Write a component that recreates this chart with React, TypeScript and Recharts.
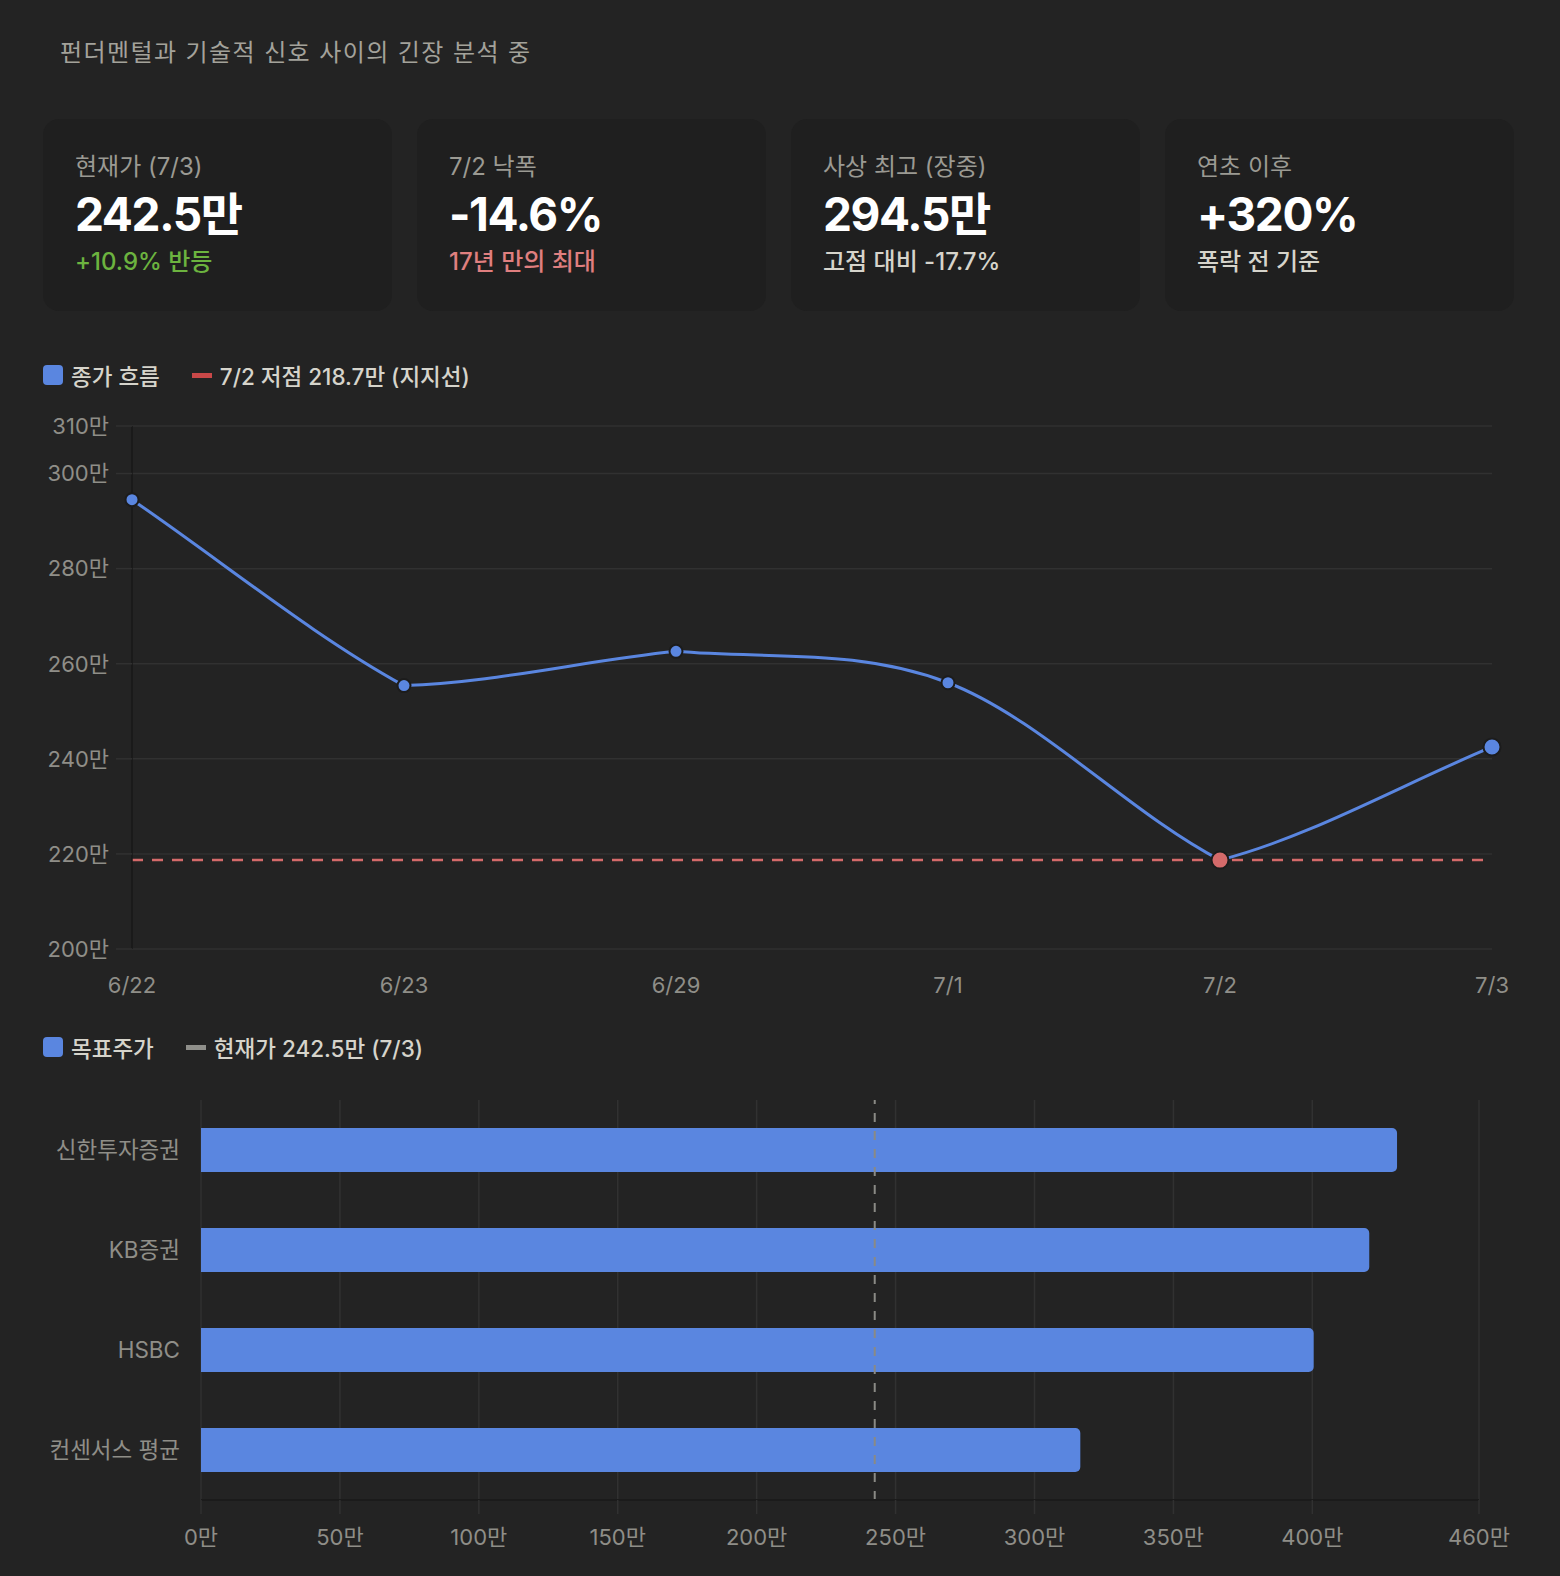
import React from 'react';
import {
  LineChart, Line, XAxis, YAxis, CartesianGrid, ReferenceLine,
  BarChart, Bar,
} from 'recharts';

// ---------- data ----------
const titleText = '펀더멘털과 기술적 신호 사이의 긴장 분석 중';

const kpiLabels = ['현재가 (7/3)', '7/2 낙폭', '사상 최고 (장중)', '연초 이후'];
const kpiValues = ['242.5만', '-14.6%', '294.5만', '+320%'];
const kpiSubs = ['+10.9% 반등', '17년 만의 최대', '고점 대비 -17.7%', '폭락 전 기준'];

const dates = ['6/22', '6/23', '6/29', '7/1', '7/2', '7/3'];
const closes = [294.5, 255.4, 262.6, 256.0, 218.7, 242.5];
const priceTicks = [200, 220, 240, 260, 280, 300, 310];
const supportLevel = 218.7;

const brokers = ['신한투자증권', 'KB증권', 'HSBC', '컨센서스 평균'];
const targets = [430.5, 420.5, 400.5, 316.5];
const targetTicks = [0, 50, 100, 150, 200, 250, 300, 350, 400, 460];
const currentPrice = 242.5;

const lineLegend = ['종가 흐름', '7/2 저점 218.7만 (지지선)'];
const barLegend = ['목표주가', '현재가 242.5만 (7/3)'];

// ---------- styles ----------
const BG = '#232323';
const CARD = '#1f1f1f';
const BLUE = '#5a86e0';
const RED = '#d46a6a';
const GRID = '#313131';
const TICK = '#8f8e88';
const FONT = "Inter, 'Noto Sans CJK KR', 'Noto Sans', sans-serif";

const subColors = ['#6cb33f', '#e07f7f', '#d6d4cb', '#d6d4cb'];

const lineData = dates.map((d, i) => ({ date: d, close: closes[i] }));
const barData = brokers.map((b, i) => ({ name: b, target: targets[i] }));

const minClose = Math.min(...closes);

// Piecewise Hermite curve: averaged tangents at monotone points,
// softened one-sided chord tangents at local extremes.
const EXTREME_SOFTEN = 0.8;
const extremeChordCurve = (context: any) => {
  let pts: number[][] = [];
  return {
    areaStart() {},
    areaEnd() {},
    lineStart() { pts = []; },
    point(x: number, y: number) { pts.push([+x, +y]); },
    lineEnd() {
      const n = pts.length;
      if (!n) return;
      const d: number[] = [];
      for (let i = 0; i < n - 1; i++) {
        const dx = pts[i + 1][0] - pts[i][0];
        d.push(dx !== 0 ? (pts[i + 1][1] - pts[i][1]) / dx : 0);
      }
      const mIn: number[] = new Array(n).fill(0);
      const mOut: number[] = new Array(n).fill(0);
      for (let i = 0; i < n; i++) {
        if (i === 0) { mOut[i] = d[0] ?? 0; continue; }
        if (i === n - 1) { mIn[i] = d[n - 2]; continue; }
        const a = d[i - 1];
        const b = d[i];
        if (Math.sign(a) !== Math.sign(b)) {
          const s = Math.abs(a) + Math.abs(b) || 1;
          mIn[i] = EXTREME_SOFTEN * a * Math.min(1, (2 * Math.abs(a)) / s);
          mOut[i] = EXTREME_SOFTEN * b * Math.min(1, (2 * Math.abs(b)) / s);
        } else {
          mIn[i] = mOut[i] = (a + b) / 2;
        }
      }
      context.moveTo(pts[0][0], pts[0][1]);
      for (let i = 1; i < n; i++) {
        const p0 = pts[i - 1];
        const p1 = pts[i];
        const h = (p1[0] - p0[0]) / 3;
        context.bezierCurveTo(p0[0] + h, p0[1] + h * mOut[i - 1], p1[0] - h, p1[1] - h * mIn[i], p1[0], p1[1]);
      }
    },
  };
};

const PriceDot = (props: any) => {
  const { cx, cy, index, payload } = props;
  if (cx == null || cy == null) return <g key={`d${index}`} />;
  const isLow = payload.close === minClose;
  const isLast = index === closes.length - 1;
  const r = isLow || isLast ? 8.5 : 6.5;
  return (
    <circle
      key={`d${index}`}
      cx={cx}
      cy={cy}
      r={r}
      fill={isLow ? RED : BLUE}
      stroke="#1c1c1c"
      strokeWidth={2}
    />
  );
};

const Legend = ({ top, items, second }: { top: number; items: string[]; second: string }) => (
  <div
    style={{
      position: 'absolute', left: 43, top, height: 26, display: 'flex',
      alignItems: 'center', fontSize: 22.5, color: '#d6d4cb', fontWeight: 500,
      whiteSpace: 'nowrap',
    }}
  >
    <div style={{ width: 20, height: 20, borderRadius: 4, background: BLUE, marginRight: 8 }} />
    <span>{items[0]}</span>
    <div style={{ width: 20, height: 5, background: second, marginLeft: 32, marginRight: 8 }} />
    <span>{items[1]}</span>
  </div>
);

const tickStyle = { fill: TICK, fontSize: 22, fontFamily: FONT };

export default function App() {
  return (
    <div
      style={{
        position: 'absolute', left: 0, top: 0, width: 1560, height: 1576,
        background: BG, fontFamily: FONT, overflow: 'hidden',
      }}
    >
      <div
        style={{
          position: 'absolute', left: 60, top: 38, lineHeight: '30px',
          fontSize: 24, letterSpacing: 1.4, color: '#a3a29b', whiteSpace: 'nowrap',
        }}
      >
        {titleText}
      </div>

      {kpiLabels.map((label, i) => (
        <div
          key={label}
          style={{
            position: 'absolute', left: 43 + i * 374, top: 119, width: 349, height: 192,
            background: CARD, borderRadius: 16,
          }}
        >
          <div style={{ position: 'absolute', left: 32, top: 33, lineHeight: '30px', fontSize: 24, color: '#9b9a93', whiteSpace: 'nowrap' }}>
            {label}
          </div>
          <div style={{ position: 'absolute', left: 32, top: 67, lineHeight: '56px', fontSize: 46, fontWeight: 700, color: '#ffffff', whiteSpace: 'nowrap', letterSpacing: -1.4 }}>
            {kpiValues[i]}
          </div>
          <div style={{ position: 'absolute', left: 32, top: 128, lineHeight: '30px', fontSize: 24, color: subColors[i], whiteSpace: 'nowrap', fontWeight: 500 }}>
            {kpiSubs[i]}
          </div>
        </div>
      ))}

      <Legend top={362} items={lineLegend} second="#c94848" />

      <div style={{ position: 'absolute', left: 0, top: 400 }}>
        <LineChart
          width={1560}
          height={620}
          data={lineData}
          margin={{ top: 26, right: 68, bottom: 31, left: 32 }}
        >
          <CartesianGrid vertical={false} stroke={GRID} strokeWidth={1.5} />
          <XAxis
            dataKey="date"
            axisLine={false}
            tickLine={false}
            tickSize={0}
            tickMargin={28}
            height={40}
            interval={0}
            tick={tickStyle}
          />
          <YAxis
            domain={[200, 310]}
            ticks={priceTicks}
            interval={0}
            width={100}
            axisLine={{ stroke: '#181818', strokeWidth: 1.5 }}
            tickLine={{ stroke: GRID, strokeWidth: 1.5 }}
            tickSize={16}
            tickMargin={7}
            tickFormatter={(v: number) => `${v}만`}
            tick={tickStyle}
          />
          <ReferenceLine
            y={supportLevel}
            stroke={RED}
            strokeWidth={2.5}
            strokeDasharray="11 9"
          />
          <Line
            type={extremeChordCurve as any}
            dataKey="close"
            stroke={BLUE}
            strokeWidth={3}
            dot={PriceDot}
            activeDot={false}
            isAnimationActive={false}
          />
        </LineChart>
      </div>

      <Legend top={1034} items={barLegend} second="#8f8f8a" />

      <div style={{ position: 'absolute', left: 0, top: 1070 }}>
        <BarChart
          layout="vertical"
          width={1560}
          height={506}
          data={barData}
          margin={{ top: 30, right: 81, bottom: 36, left: 0 }}
        >
          <CartesianGrid horizontal={false} stroke={GRID} strokeWidth={1.5} />
          <XAxis
            type="number"
            domain={[0, 460]}
            ticks={targetTicks}
            interval={0}
            height={40}
            axisLine={{ stroke: '#1b1b1b', strokeWidth: 2 }}
            tickLine={{ stroke: GRID, strokeWidth: 1.5 }}
            tickSize={14}
            tickMargin={15}
            tickFormatter={(v: number) => `${v}만`}
            tick={tickStyle}
          />
          <YAxis
            type="category"
            dataKey="name"
            width={201}
            axisLine={false}
            tickLine={false}
            tickSize={0}
            tickMargin={21}
            interval={0}
            tick={{ ...tickStyle, fontSize: 22.5 }}
          />
          <Bar
            dataKey="target"
            fill={BLUE}
            barSize={44}
            radius={[0, 5, 5, 0]}
            isAnimationActive={false}
          />
          <ReferenceLine
            x={currentPrice}
            stroke="#8a8a85"
            strokeWidth={2}
            strokeDasharray="9 9"
          />
        </BarChart>
      </div>
    </div>
  );
}
